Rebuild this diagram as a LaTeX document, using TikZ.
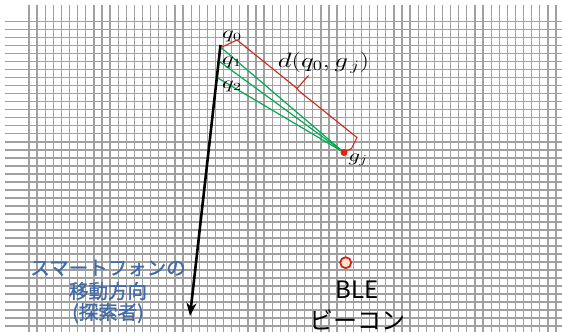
\documentclass[tikz,border=0pt]{standalone}
\usepackage{fontspec}
\usepackage{graphicx}
\newfontfamily\jp{Noto Sans CJK JP}
\newfontfamily\jpb[FakeBold=1.2]{Noto Sans CJK JP}
\usetikzlibrary{arrows.meta}
\definecolor{gridgray}{RGB}{160,160,160}
\definecolor{gline}{RGB}{0,170,80}
\definecolor{rline}{RGB}{205,40,25}
\definecolor{jblue}{RGB}{65,108,168}
\definecolor{peach}{RGB}{253,228,205}
\definecolor{dotred}{RGB}{235,30,10}
\tikzset{
  gridline/.style={draw=gridgray, line width=1.3pt},
  mvarrow/.style={draw=black, line width=2.6pt, -{Stealth[length=13pt,width=10pt,inset=4pt]}},
  sightline/.style={draw=gline, line width=1.2pt},
  bracket/.style={draw=rline, line width=1.1pt, line join=miter},
  beacon/.style={circle, draw=rline, fill=peach, line width=1.8pt, minimum size=11pt, inner sep=0pt},
  gdot/.style={circle, fill=dotred, minimum size=7pt, inner sep=0pt},
  mlabel/.style={inner sep=0pt, font=\fontsize{16}{16}\selectfont},
  biglabel/.style={inner sep=0pt, font=\fontsize{20}{20}\selectfont},
  jlabel/.style={inner sep=0pt, text=jblue, font=\jpb\fontsize{19.5}{20}\selectfont},
  klabel/.style={inner sep=0pt, text=black, font=\jp\fontsize{24}{24}\selectfont}
}
\newcommand{\wide}[2][1.45]{\scalebox{#1}[1]{#2}}
\begin{document}
\begin{tikzpicture}[x=1pt,y=-1pt]
\useasboundingbox (0,0) rectangle (562,332);
% grid
\foreach \k in {0,...,65} \draw[gridline] ({29+8.108*\k},5) -- ({29+8.108*\k},332);
\foreach \k in {0,...,38} \draw[gridline] (5,{21.7+8.01*\k}) -- (562,{21.7+8.01*\k});
% points
\coordinate (top) at (220.5,45);
\coordinate (tip) at (190,316);
\coordinate (q0p) at (221,47.5);
\coordinate (q1p) at (219.5,61.5);
\coordinate (q2p) at (217.8,78);
\coordinate (gj) at (344,152.5);
\coordinate (c1) at (237,40);
\coordinate (b1) at (293.5,85.5);
\coordinate (bm) at (297,88.5);
\coordinate (b2) at (299,91);
\coordinate (btip) at (308.5,75.5);
\coordinate (c2) at (357,137.5);
\coordinate (c3) at (351.5,148.5);
% movement arrow
\draw[mvarrow] (top) -- (tip);
% sight lines
\draw[sightline] (q0p) -- (gj);
\draw[sightline] (q1p) -- (gj);
\draw[sightline] (q2p) -- (gj);
% bracket
\draw[bracket] (q0p) -- (c1) -- (b1) -- (bm) -- (b2) -- (c2) -- (c3) -- (gj);
\draw[bracket] (bm) -- (btip);
\node[gdot] (gdot) at (gj) {};
% labels
\node[mlabel] (lq0) at (232,36) {\wide{$q_0$}};
\node[mlabel] (lq1) at (232,62) {\wide{$q_1$}};
\node[mlabel] (lq2) at (232,86) {\wide{$q_2$}};
\node[biglabel] (ld) at (323.5,63) {\wide[1.3]{$d(q_0,g_{\,j})$}};
\node[mlabel, font=\fontsize{18}{18}\selectfont] (lgj) at (358,160) {\wide[1.35]{$g_j$}};
% beacon
\node[beacon] (bc) at (345.7,262.7) {};
\node[klabel] (ble) at (357,290) {BLE};
\node[klabel] (bcn) at (357,320) {ビーコン};
% smartphone text
\node[jlabel] (t1) at (108,268) {スマートフォンの};
\node[jlabel] (t2) at (108,291) {移動方向};
\node[jlabel] (t3) at (108,313) {(探索者)};
\end{tikzpicture}
\end{document}
